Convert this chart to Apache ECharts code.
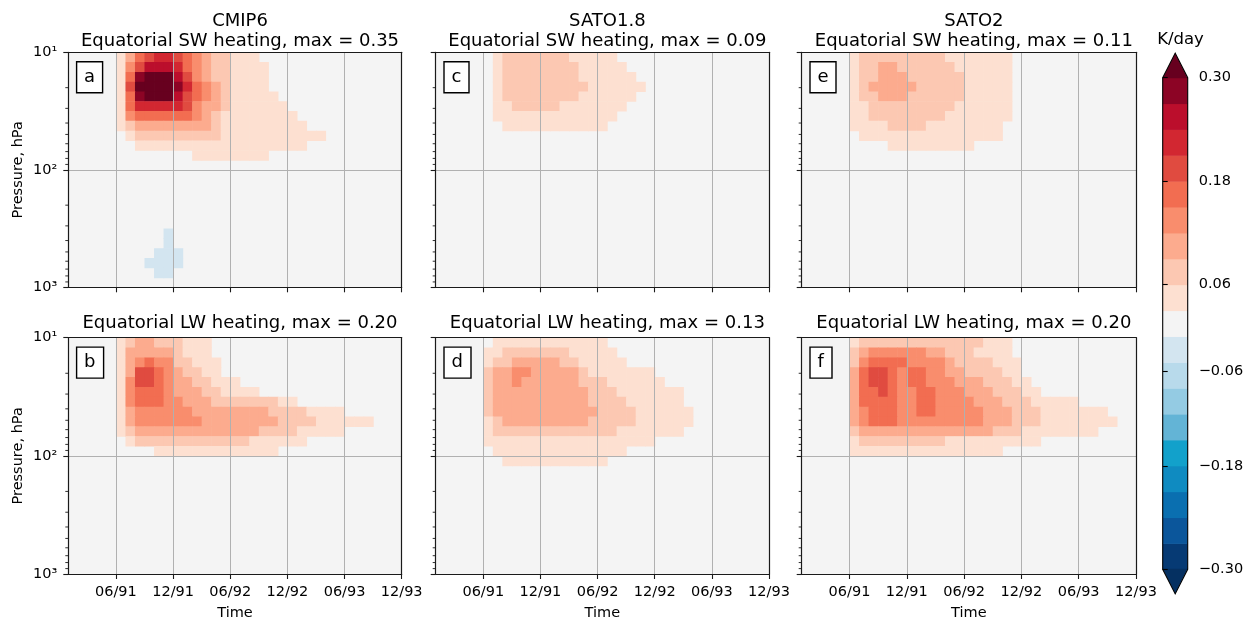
<!DOCTYPE html>
<html>
<head>
<meta charset="utf-8">
<script src="https://cdn.jsdelivr.net/npm/echarts@6/dist/echarts.min.js"></script>
<style>
html,body{margin:0;padding:0;background:#ffffff;}
#chart{width:1258px;height:621px;}
</style>
</head>
<body>
<div id="chart"></div>
<script>
// ---------------- DATA ----------------
const months = ['01/91','02/91','03/91','04/91','05/91','06/91','07/91','08/91','09/91','10/91','11/91','12/91',
                '01/92','02/92','03/92','04/92','05/92','06/92','07/92','08/92','09/92','10/92','11/92','12/92',
                '01/93','02/93','03/93','04/93','05/93','06/93','07/93','08/93','09/93','10/93','11/93','12/93'];
const timeTickLabels = ['06/91','12/91','06/92','12/92','06/93','12/93'];
// pressure (hPa) at the centre of each row of the gridded field, top to bottom
const pressureLevels = [11.0,13.3,16.2,19.6,23.7,28.7,34.8,42.2,51.1,61.9,75.0,90.9,
                        110,133,162,196,237,287,348,422,511,619,750,909];
const pressureMinorTicks = [20,30,40,50,60,70,80,90,200,300,400,500,600,700,800,900];

// Heating rate fields (binned). One string per pressure row,
// one character per month interval (Jan91..Nov93).
// '.' = |x| < 0.03, '1'..'9' = 0.03..0.30 in 0.03 steps, 'X' = above 0.30, 'a' = -0.03..-0.06
const binValue = {'.':0,'1':0.045,'2':0.075,'3':0.105,'4':0.135,'5':0.165,'6':0.195,'7':0.225,'8':0.255,'9':0.285,'X':0.33,'a':-0.045};

const swCMIP6 = [
".....135677654322111",
".....1468887543221111",
".....159XXX8643221111",
".....16XXXX9754321111",
".....159XXX86543211111",
".....157777764332111111",
".....1455555543211111111",
".....12333333332111111111",
"......122222222211111111111",
".......111111111111111111",
".............11111111",
"","","","","","","",
"..........a",
"..........a",
".........aaa",
"........aaaa",
".........aa",
""
];
const lwCMIP6 = [
".....1233222111",
".....1333332111",
".....13454422111",
".....13665432211",
".....1466543322111",
".....145554333221111",
".....1455544333222222211",
".....134444443333333322221111",
".....134444444333333332222111111",
".....123333333333333222211111",
"......1222222222222111111",
".........1111111111111",
"","","","","","","","","","","",""
];
const swSATO18 = [
"......1222222211111",
"......12222222211111",
"......122222222111111",
"......1222222222111111",
"......122222222111111",
"......11222221111111",
"......1111111111111",
".......11111111111",
"","","","","","","","","","","","","","","",""
];
const lwSATO18 = [
"......111111111111",
".....11222222211111",
".....122333332211111",
".....233443333321111111",
".....2334333333222111111",
".....233333333332221111111",
".....233333333332222111111",
".....2333333333332222111111",
".....1233333333322222111111",
".....122222222222221111111",
".....111111111111111111",
"......11111111111111",
".......11111111111",
"","","","","","","","","","",""
];
const swSATO2 = [
".....12222222221111111",
".....12233222222111111",
".....12233322222211111",
".....12333332222211111",
".....12233322222211111",
".....11222222222111111",
".....11222222221111111",
".....1111222211111111",
"......111111111111111",
".........111111111",
"","","","","","","","","","","","","",""
];
const lwSATO2 = [
".....12222222222222111",
".....23444444332221111",
".....245555444432222111",
".....356654554433222211",
".....3566545544433322211",
".....35565445544433322211",
".....355554455444433322211111",
".....345554455444443332221111111",
".....3455544444444433322211111111",
".....23333333333333322211111111",
".....12222222221111111111",
".....1111111111111111",
"","","","","","","","","","","",""
];

const modelNames = ['CMIP6','SATO1.8','SATO2'];
const panelTitles = ['Equatorial SW heating, max = 0.35','Equatorial LW heating, max = 0.20',
                     'Equatorial SW heating, max = 0.09','Equatorial LW heating, max = 0.13',
                     'Equatorial SW heating, max = 0.11','Equatorial LW heating, max = 0.20'];
const panelLetters = ['a','b','c','d','e','f'];

// colour bar (bottom to top)
const colorbarBounds = [-0.30,-0.27,-0.24,-0.21,-0.18,-0.15,-0.12,-0.09,-0.06,-0.03,0.03,0.06,0.09,0.12,0.15,0.18,0.21,0.24,0.27,0.30];
const colorbarColors = ['#063a74','#0b569b','#0a6fb0','#0f8bc1','#12a1cb','#63b4d6','#94cbe3','#b8daeb','#d3e5f0',
                        '#f4f4f4','#fde0d1','#fcc8b2','#fcab8e','#f98d6d','#f26d51','#e04b40','#d22731','#bb0e2c','#8c0425'];
const overColor = '#67001f', underColor = '#053061';
const colorbarTickLabels = ['\u22120.30','\u22120.18','\u22120.06','0.06','0.18','0.30'];
const colorbarTickPositions = [0,4,7.64,11,15,19];

// ---------------- CHART ----------------
const FONT = 'DejaVu Sans';
const FRAME = '#1a1a1a', FRAME_W = 1.2, GRIDC = '#b0b0b0';
const colLeft = [68.3,435.7,801.7], colWidth = [333.4,333.3,334.3];
const rowTop = [52.3,337.7], rowHeight = [235,236.3];

const pEdges = [];
for (let k = 0; k <= pressureLevels.length; k++) {
  const n = pressureLevels.length;
  if (k === 0) pEdges.push(pressureLevels[0] / Math.sqrt(pressureLevels[1] / pressureLevels[0]));
  else if (k === n) pEdges.push(pressureLevels[n-1] * Math.sqrt(pressureLevels[n-1] / pressureLevels[n-2]));
  else pEdges.push(Math.sqrt(pressureLevels[k-1] * pressureLevels[k]));
}
function colorFor(v) {
  if (v > colorbarBounds[colorbarBounds.length-1]) return overColor;
  if (v < colorbarBounds[0]) return underColor;
  for (let i = 0; i < colorbarColors.length; i++) {
    if (v >= colorbarBounds[i] && v < colorbarBounds[i+1]) return colorbarColors[i];
  }
  return colorbarColors[colorbarColors.length-1];
}
const isTick = (idx) => timeTickLabels.indexOf(months[idx]) >= 0;
const sup = {1:'\u00b9',2:'\u00b2',3:'\u00b3'};

const panels = [
  {rows: swCMIP6, col:0, row:0}, {rows: lwCMIP6, col:0, row:1},
  {rows: swSATO18, col:1, row:0}, {rows: lwSATO18, col:1, row:1},
  {rows: swSATO2, col:2, row:0}, {rows: lwSATO2, col:2, row:1}
];
const nCols = months.length - 1;

const grids = [], xAxes = [], yAxes = [], series = [], titles = [];
panels.forEach((pn, g) => {
  const left = colLeft[pn.col], top = rowTop[pn.row], width = colWidth[pn.col], height = rowHeight[pn.row];
  const bottomRow = pn.row === 1, leftCol = pn.col === 0;
  grids.push({left, top, width, height, show:true, backgroundColor:'#f4f4f4', borderWidth:0,
              containLabel:false, outerBoundsMode:'none'});
  xAxes.push({type:'category', gridIndex:g, data:months, boundaryGap:false, position:'bottom', z:6,
    axisLine:{show:true, onZero:false, lineStyle:{color:FRAME, width:FRAME_W}},
    axisTick:{show:true, interval:isTick, length:5, lineStyle:{color:FRAME, width:1.1}},
    axisLabel:{show:bottomRow, interval:isTick, margin:11, fontSize:14.5, color:'#000', fontFamily:FONT},
    splitLine:{show:true, interval:isTick, lineStyle:{color:GRIDC, width:1}},
    name: bottomRow ? 'Time' : '', nameLocation:'middle', nameGap:32,
    nameTextStyle:{fontSize:14.5, color:'#000', fontFamily:FONT}});
  xAxes.push({type:'category', gridIndex:g, data:months, boundaryGap:false, position:'top', z:7,
    axisLine:{show:true, onZero:false, lineStyle:{color:FRAME, width:FRAME_W}},
    axisTick:{show:false}, axisLabel:{show:false}, splitLine:{show:false}});
  yAxes.push({type:'log', logBase:10, gridIndex:g, min:10, max:1000, inverse:true, position:'left', z:5,
    axisLine:{show:true, onZero:false, lineStyle:{color:FRAME, width:FRAME_W}},
    axisTick:{show:true, length:5, lineStyle:{color:FRAME, width:1.1}},
    minorTick:{show:false},
    axisLabel:{show:leftCol, margin:11, fontSize:14.5, color:'#000', fontFamily:FONT,
               formatter: v => '10' + sup[Math.round(Math.log10(v))]},
    splitLine:{show:true, lineStyle:{color:GRIDC, width:1}},
    name: leftCol ? 'Pressure, hPa' : '', nameLocation:'middle', nameGap:43, nameRotate:90,
    nameTextStyle:{fontSize:14.5, color:'#000', fontFamily:FONT}});
  yAxes.push({type:'log', logBase:10, gridIndex:g, min:10, max:1000, inverse:true, position:'right', z:7,
    axisLine:{show:true, onZero:false, lineStyle:{color:FRAME, width:FRAME_W}},
    axisTick:{show:false}, axisLabel:{show:false}, splitLine:{show:false}});

  // field cells
  const cells = [];
  pn.rows.forEach((s, r) => {
    const line = s.padEnd(nCols, '.');
    for (let c = 0; c < nCols; c++) {
      const ch = line[c];
      if (ch !== '.') cells.push([c, pressureLevels[r], binValue[ch], r]);
    }
  });
  series.push({type:'custom', coordinateSystem:'cartesian2d', xAxisIndex:2*g, yAxisIndex:2*g,
    clip:true, silent:true, z:2, data:cells,
    renderItem: (params, api) => {
      const c = api.value(0), v = api.value(2), r = api.value(3);
      const a = api.coord([c, pEdges[r]]);
      const b = api.coord([c + 1, pEdges[r + 1]]);
      return {type:'rect', shape:{x:a[0], y:a[1], width:b[0]-a[0]+0.6, height:b[1]-a[1]+0.6},
              style:{fill:colorFor(v)}};
    }});
  // minor log ticks
  series.push({type:'custom', coordinateSystem:'cartesian2d', xAxisIndex:2*g, yAxisIndex:2*g,
    clip:false, silent:true, z:8, data: pressureMinorTicks.map(p => [0, p]),
    renderItem: (params, api) => {
      const pt = api.coord([0, api.value(1)]);
      return {type:'line', shape:{x1:pt[0]-3, y1:pt[1], x2:pt[0], y2:pt[1]},
              style:{stroke:FRAME, lineWidth:0.9}};
    }});

  // titles
  const cx = left + width / 2;
  if (pn.row === 0) {
    titles.push({text: modelNames[pn.col], left: cx, top: 7, textAlign:'center',
      textStyle:{fontSize:18, fontWeight:'normal', color:'#000', fontFamily:FONT}});
  }
  titles.push({text: panelTitles[g], left: cx, top: pn.row === 0 ? 27.8 : 309.3, textAlign:'center',
    textStyle:{fontSize:18, fontWeight:'normal', color:'#000', fontFamily:FONT}});
  titles.push({text: panelLetters[g], left: left + 7.8, top: top + 8.9, padding:[7,8],
    backgroundColor:'#ffffff', borderColor:'#000', borderWidth:1.4,
    textStyle:{fontSize:18, fontWeight:'normal', color:'#000', fontFamily:FONT}});
});

// colour bar
const cbG = grids.length;
grids.push({left:1162.7, top:77.7, width:25, height:491.6, show:false, containLabel:false, outerBoundsMode:'none'});
xAxes.push({type:'value', gridIndex:cbG, min:0, max:1, show:false});
yAxes.push({type:'value', gridIndex:cbG, min:0, max:colorbarColors.length, position:'right', z:5,
  axisLine:{show:false},
  axisTick:{show:true, customValues: colorbarTickPositions, length:5, lineStyle:{color:'#000', width:1.1}},
  axisLabel:{show:true, customValues: colorbarTickPositions, margin:11, fontSize:14.5, color:'#000', fontFamily:FONT,
    formatter: v => {
      let best = 0;
      colorbarTickPositions.forEach((p, i) => { if (Math.abs(p - v) < Math.abs(colorbarTickPositions[best] - v)) best = i; });
      return colorbarTickLabels[best];
    }},
  splitLine:{show:false}});
series.push({type:'custom', coordinateSystem:'cartesian2d', xAxisIndex:2*panels.length, yAxisIndex:2*panels.length,
  clip:false, silent:true, z:2, data: colorbarColors.map((c, i) => [0, i]),
  renderItem: (params, api) => {
    const i = api.value(1);
    const a = api.coord([0, i + 1]), b = api.coord([1, i]);
    return {type:'rect', shape:{x:a[0], y:a[1], width:b[0]-a[0], height:b[1]-a[1]+0.5},
            style:{fill: colorbarColors[i]}};
  }});
series.push({type:'custom', coordinateSystem:'cartesian2d', xAxisIndex:2*panels.length, yAxisIndex:2*panels.length,
  clip:false, silent:true, z:3, data:[[0,0]],
  renderItem: (params, api) => {
    const n = colorbarColors.length;
    const bl = api.coord([0,0]), br = api.coord([1,0]), tl = api.coord([0,n]), tr = api.coord([1,n]);
    const ext = (bl[1] - tl[1]) * 0.05, mid = (tl[0] + tr[0]) / 2;
    return {type:'group', children:[
      {type:'polygon', shape:{points:[[tl[0],tl[1]+0.5],[mid,tl[1]-ext],[tr[0],tr[1]+0.5]]}, style:{fill:overColor}},
      {type:'polygon', shape:{points:[[bl[0],bl[1]-0.5],[mid,bl[1]+ext],[br[0],br[1]-0.5]]}, style:{fill:underColor}},
      {type:'polygon', shape:{points:[[tl[0],tl[1]],[mid,tl[1]-ext],[tr[0],tr[1]],[br[0],br[1]],[mid,bl[1]+ext],[bl[0],bl[1]]]},
       style:{fill:'none', stroke:'#000', lineWidth:1.1}}
    ]};
  }});
titles.push({text:'K/day', left:1175.5, top:26, textAlign:'center',
  textStyle:{fontSize:16.5, fontWeight:'normal', color:'#000', fontFamily:FONT}});

const chart = echarts.init(document.getElementById('chart'), null, {renderer:'canvas', width:1258, height:621});
chart.setOption({
  animation:false,
  backgroundColor:'#ffffff',
  textStyle:{fontFamily:FONT},
  title: titles,
  grid: grids,
  xAxis: xAxes,
  yAxis: yAxes,
  series: series
});
</script>
</body>
</html>
